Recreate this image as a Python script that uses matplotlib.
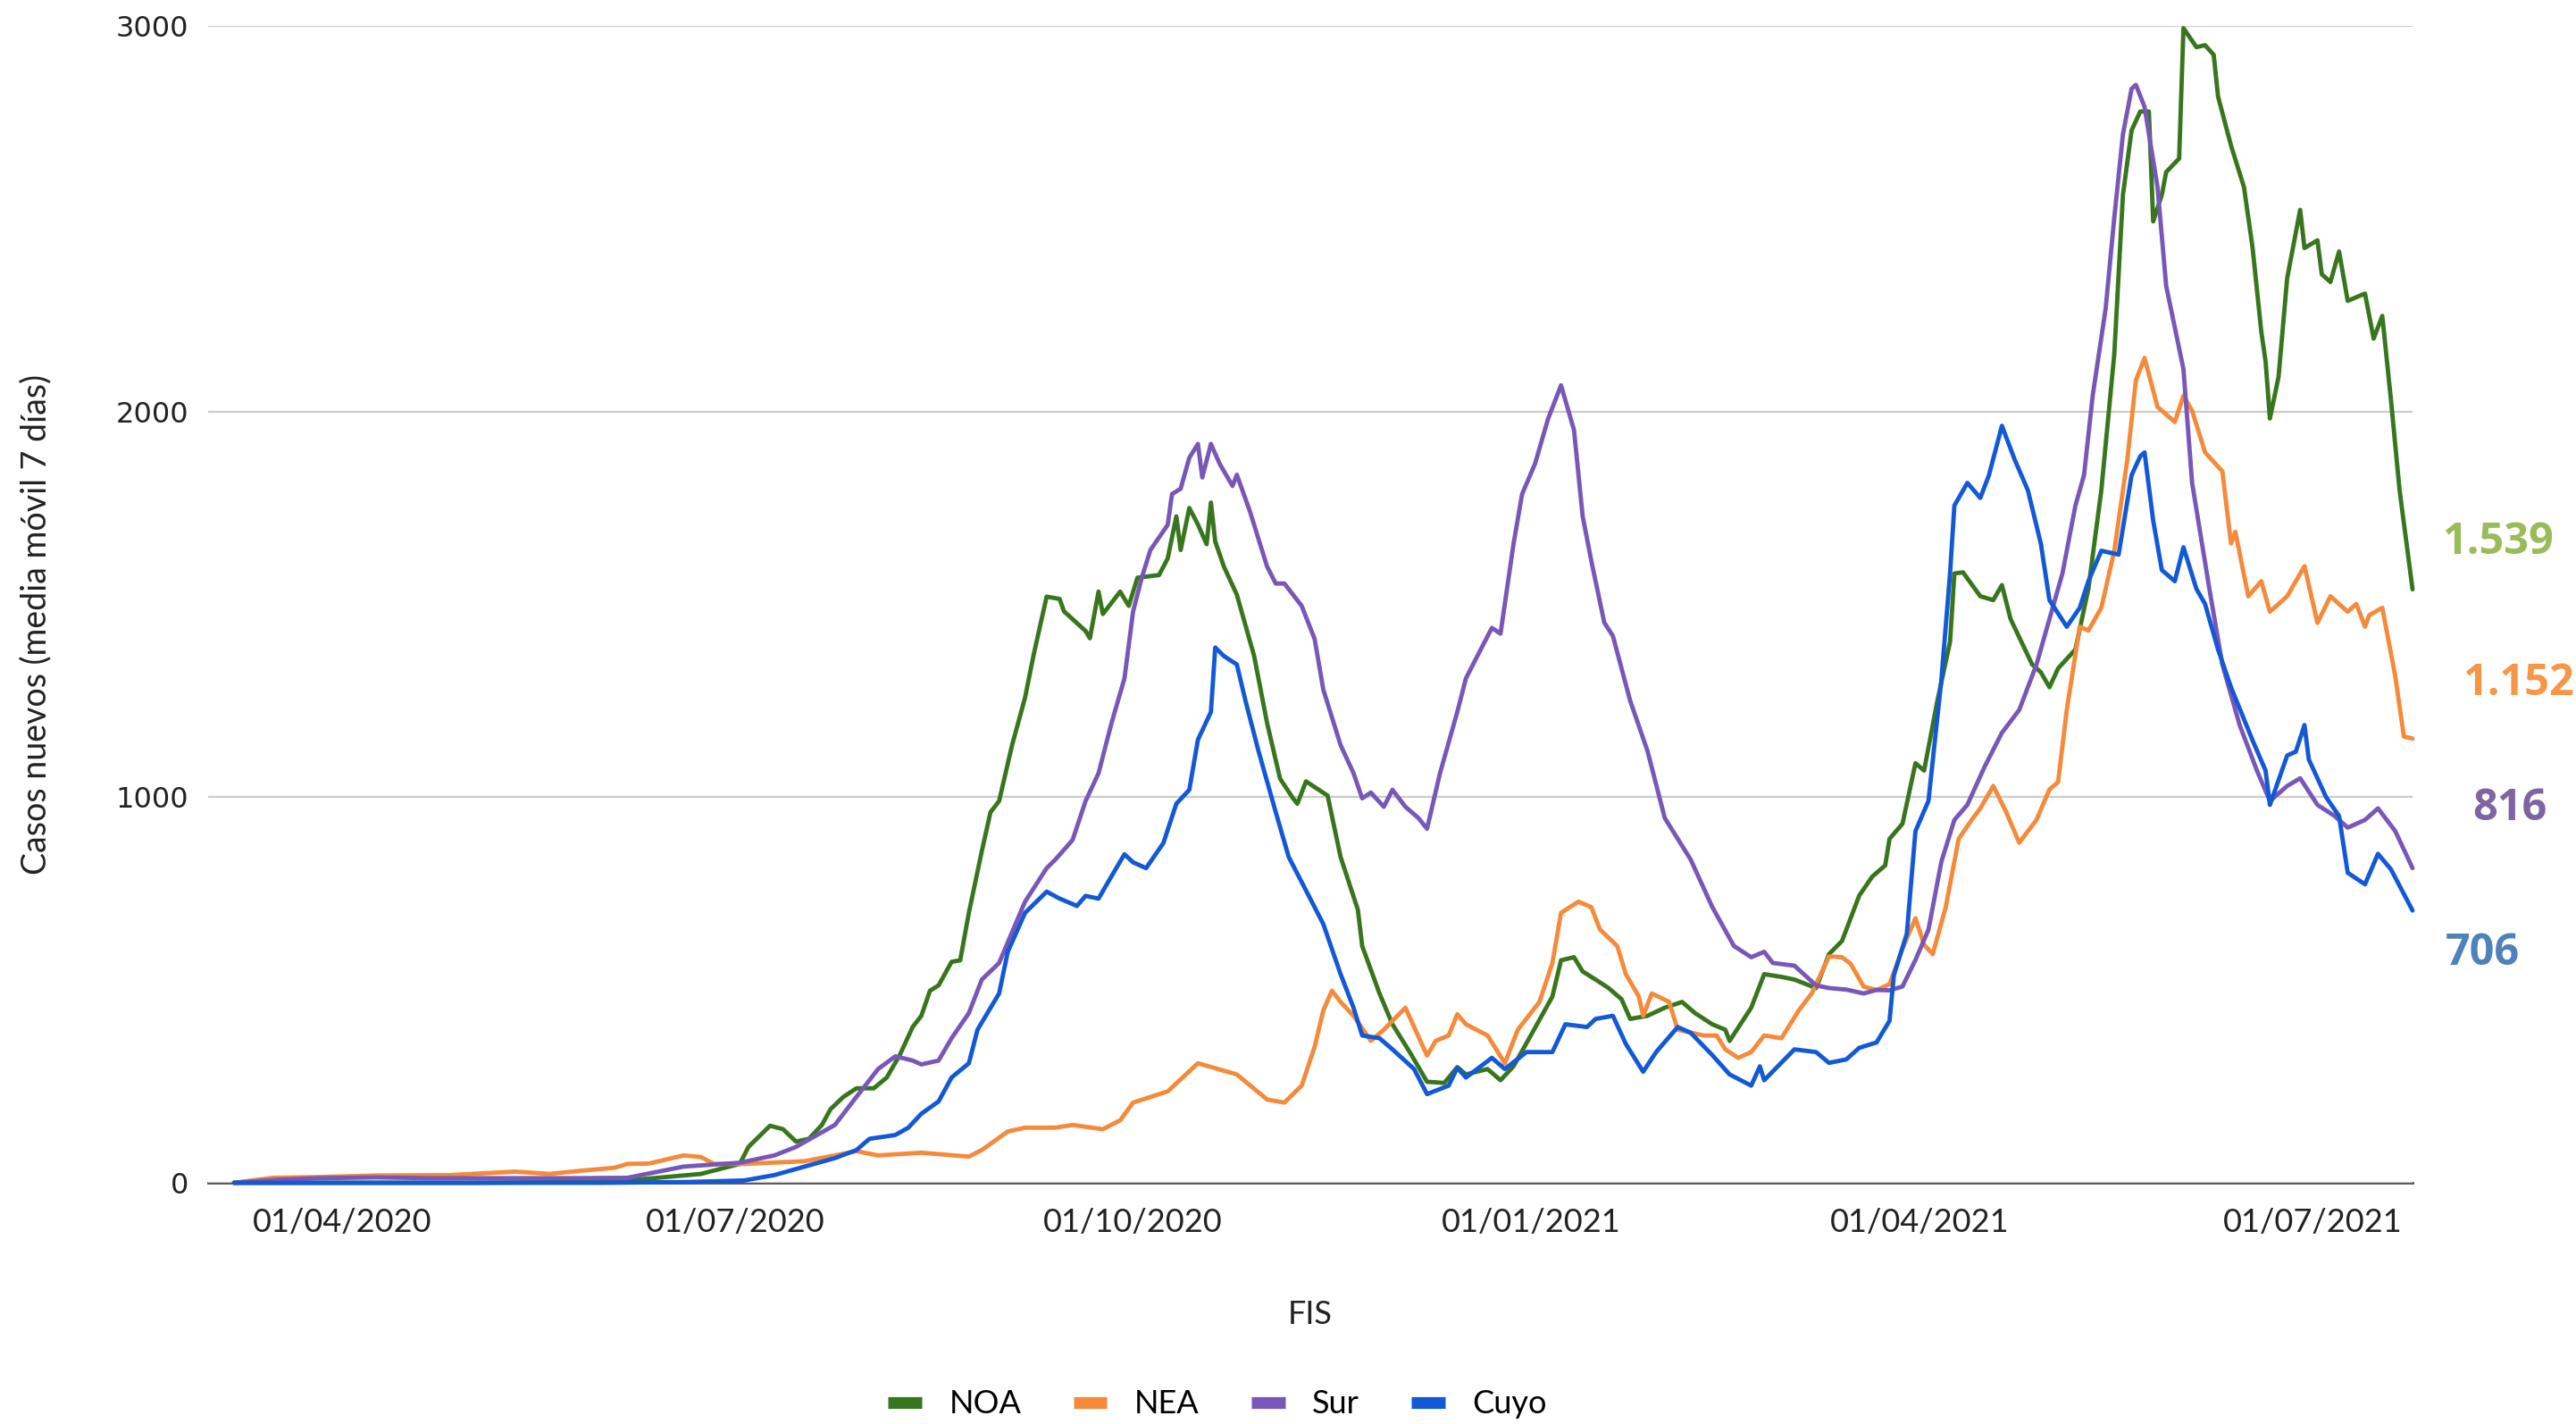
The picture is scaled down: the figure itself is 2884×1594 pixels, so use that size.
import pandas as pd
import matplotlib.pyplot as plt
from matplotlib.lines import Line2D

# (days since 01/04/2020, casos nuevos media movil 7 dias)
noa = [(-25, 0), (0, 0), (30, 0), (55, 2), (66, 6), (83, 23), (92, 49), (94, 93), (99, 148), (102, 139),
       (105, 107), (108, 114), (111, 150), (113, 191), (116, 223), (119, 245), (123, 245), (126, 273),
       (129, 331), (132, 404), (134, 433), (136, 498), (138, 512), (141, 573), (143, 577), (145, 700),
       (148, 860), (150, 961), (152, 990), (155, 1135), (158, 1258), (160, 1370), (163, 1520), (166, 1514),
       (167, 1482), (172, 1431), (173, 1412), (175, 1533), (176, 1475), (180, 1533), (182, 1496), (184, 1569),
       (189, 1576), (191, 1619), (193, 1728), (194, 1641), (196, 1750), (198, 1707), (200, 1656), (201, 1764),
       (202, 1663), (204, 1598), (207, 1525), (211, 1366), (214, 1192), (217, 1048), (220, 997), (221, 983),
       (223, 1041), (228, 1004), (231, 845), (235, 708), (236, 614), (240, 491), (243, 411), (247, 339),
       (251, 262), (255, 259), (258, 300), (260, 281), (265, 295), (268, 266), (271, 302), (275, 382),
       (280, 483), (282, 577), (285, 585), (287, 548), (290, 527), (293, 505), (296, 476), (298, 425),
       (302, 433), (306, 454), (310, 469), (313, 440), (317, 411), (320, 397), (321, 368), (326, 454),
       (329, 541), (333, 534), (336, 527), (341, 505), (344, 593), (347, 627), (351, 745), (354, 794),
       (357, 823), (358, 892), (361, 931), (364, 1088), (366, 1069), (369, 1246), (372, 1403), (373, 1580),
       (375, 1583), (379, 1521), (382, 1511), (384, 1550), (386, 1462), (391, 1344), (393, 1324), (395, 1285),
       (397, 1334), (401, 1383), (404, 1540), (407, 1796), (410, 2149), (412, 2562), (414, 2729), (416, 2778),
       (418, 2778), (419, 2493), (421, 2562), (422, 2621), (425, 2656), (426, 2994), (429, 2945), (431, 2950),
       (433, 2925), (434, 2817), (437, 2690), (440, 2582), (442, 2424), (444, 2208), (445, 2130), (446, 1982),
       (448, 2090), (450, 2346), (453, 2523), (454, 2424), (457, 2444), (458, 2356), (460, 2336), (462, 2415),
       (464, 2287), (468, 2306), (470, 2189), (472, 2248), (474, 2031), (476, 1796), (479, 1539)]

nea = [(-25, 0), (-16, 13), (-5, 15), (8, 19), (25, 20), (40, 29), (48, 23), (55, 31), (63, 39), (66, 49),
       (71, 50), (79, 71), (83, 67), (86, 49), (93, 49), (107, 56), (119, 82), (124, 71), (134, 78), (145, 68),
       (148, 85), (154, 133), (158, 143), (165, 143), (169, 150), (176, 139), (180, 162), (183, 208), (191, 237),
       (198, 310), (207, 281), (214, 216), (218, 208), (222, 252), (225, 353), (227, 447), (229, 498), (231, 469),
       (234, 433), (238, 368), (241, 397), (246, 454), (248, 404), (251, 330), (253, 368), (256, 382), (258, 437),
       (260, 411), (265, 382), (269, 310), (272, 397), (277, 469), (280, 570), (282, 700), (286, 729), (289, 715),
       (291, 657), (295, 614), (297, 541), (300, 483), (301, 433), (303, 491), (307, 469), (309, 397), (315, 382),
       (318, 382), (320, 346), (323, 324), (326, 339), (329, 382), (333, 375), (337, 447), (340, 491), (344, 587),
       (347, 585), (349, 568), (352, 509), (355, 500), (358, 515), (361, 607), (364, 686), (366, 617), (368, 593),
       (371, 715), (374, 892), (377, 941), (379, 971), (382, 1029), (385, 961), (388, 882), (392, 941), (395, 1020),
       (397, 1039), (399, 1226), (402, 1442), (404, 1432), (407, 1491), (410, 1639), (413, 1874), (415, 2081),
       (417, 2139), (420, 2012), (424, 1973), (426, 2041), (428, 2002), (431, 1894), (435, 1845), (437, 1658),
       (438, 1688), (441, 1521), (444, 1560), (446, 1481), (450, 1521), (454, 1599), (457, 1452), (460, 1521),
       (464, 1481), (466, 1501), (468, 1442), (469, 1472), (472, 1491), (475, 1314), (477, 1157), (479, 1152)]

sur = [(-25, 0), (-15, 8), (-5, 12), (8, 14), (20, 12), (40, 12), (55, 12), (66, 13), (79, 42), (92, 52),
       (100, 71), (105, 93), (114, 150), (119, 223), (124, 295), (128, 328), (132, 317), (134, 307), (138, 317),
       (141, 375), (145, 440), (148, 527), (152, 570), (155, 650), (158, 729), (163, 816), (165, 838), (169, 889),
       (172, 990), (175, 1062), (178, 1192), (181, 1308), (183, 1482), (185, 1569), (187, 1641), (191, 1706),
       (192, 1786), (194, 1800), (196, 1880), (198, 1916), (199, 1829), (201, 1916), (203, 1865), (206, 1807),
       (207, 1836), (210, 1742), (214, 1598), (216, 1554), (218, 1554), (222, 1496), (225, 1410), (227, 1279),
       (231, 1135), (234, 1062), (236, 997), (238, 1012), (241, 975), (243, 1019), (246, 975), (249, 946),
       (251, 918), (254, 1062), (258, 1221), (260, 1308), (262, 1352), (266, 1439), (268, 1424), (271, 1656),
       (273, 1786), (276, 1865), (279, 1981), (282, 2068), (285, 1952), (287, 1729), (289, 1613), (292, 1453),
       (294, 1418), (298, 1250), (302, 1120), (306, 946), (312, 838), (317, 715), (322, 614), (326, 585),
       (329, 599), (331, 570), (336, 563), (341, 512), (344, 505), (348, 501), (352, 491), (355, 500), (358, 499),
       (361, 509), (364, 578), (367, 656), (370, 833), (373, 941), (376, 980), (380, 1079), (384, 1167),
       (388, 1226), (392, 1344), (395, 1462), (398, 1580), (401, 1756), (403, 1835), (405, 2041), (408, 2267),
       (410, 2503), (412, 2719), (414, 2837), (415, 2847), (417, 2790), (420, 2582), (422, 2326), (426, 2110),
       (428, 1815), (432, 1540), (435, 1344), (439, 1187), (443, 1069), (446, 990), (450, 1029), (453, 1049),
       (457, 980), (461, 951), (464, 921), (468, 941), (471, 971), (475, 912), (479, 816)]

cuyo = [(-25, 0), (60, 0), (80, 2), (93, 6), (100, 20), (107, 42), (114, 64), (119, 85), (122, 114), (128, 124),
        (131, 143), (134, 179), (138, 211), (141, 273), (145, 310), (147, 397), (152, 491), (154, 599), (158, 700),
        (160, 722), (163, 755), (166, 737), (170, 718), (172, 744), (175, 737), (178, 795), (181, 852), (183, 831),
        (186, 816), (190, 881), (193, 983), (196, 1019), (198, 1149), (201, 1221), (202, 1388), (204, 1366),
        (207, 1344), (209, 1250), (212, 1120), (216, 961), (219, 845), (223, 758), (227, 671), (231, 541),
        (234, 454), (236, 382), (240, 375), (243, 346), (248, 295), (251, 230), (256, 252), (258, 298), (260, 273),
        (266, 324), (269, 295), (274, 339), (278, 339), (280, 339), (283, 411), (288, 404), (290, 425), (294, 433),
        (297, 360), (301, 288), (304, 339), (309, 404), (312, 389), (317, 331), (321, 281), (326, 252), (328, 302),
        (329, 266), (336, 346), (341, 339), (344, 311), (348, 320), (351, 350), (355, 364), (358, 420), (359, 538),
        (362, 646), (364, 912), (367, 990), (370, 1305), (372, 1580), (373, 1756), (376, 1815), (379, 1776),
        (381, 1835), (384, 1963), (387, 1874), (390, 1796), (393, 1658), (395, 1511), (399, 1442), (402, 1491),
        (404, 1560), (407, 1639), (411, 1629), (414, 1835), (416, 1884), (417, 1894), (419, 1717), (421, 1589),
        (424, 1560), (426, 1648), (429, 1540), (431, 1501), (434, 1383), (437, 1285), (442, 1147), (445, 1069),
        (446, 980), (450, 1108), (452, 1118), (454, 1187), (455, 1098), (459, 1000), (462, 951), (464, 804),
        (468, 774), (471, 853), (474, 813), (479, 706)]

names = ['NOA', 'NEA', 'Sur', 'Cuyo']
colors = ['#38761d', '#f58a3a', '#7957b8', '#1358d6']
last_labels = ['1.539', '1.152', '816', '706']
last_colors = ['#9bbb59', '#f79646', '#8064a2', '#4f81bd']
tick_dates = ['2020-04-01', '2020-07-01', '2020-10-01', '2021-01-01', '2021-04-01', '2021-07-01']

start = pd.Timestamp('2020-04-01')
W, H = 2884, 1594

fig = plt.figure(figsize=(W / 100, H / 100), dpi=100)
ax = fig.add_axes([233 / W, 1 - 1324 / H, (2701 - 233) / W, (1324 - 29) / H])

for pts, c in zip([noa, nea, sur, cuyo], colors):
    days = [p[0] for p in pts]
    vals = [p[1] for p in pts]
    x = start + pd.to_timedelta(days, unit='D')
    ax.plot(x, vals, color=c, lw=3.5, solid_joinstyle='round', solid_capstyle='round', clip_on=False)

ax.set_ylim(0, 3000)
ax.set_yticks([0, 1000, 2000, 3000])
ax.set_xlim(start - pd.Timedelta(days=31), start + pd.Timedelta(days=479))
ticks = pd.to_datetime(tick_dates)
ax.set_xticks(ticks)
ax.set_xticklabels([t.strftime('%d/%m/%Y') for t in ticks], fontsize=26, family='Lato', color='#222222')
for lab in ax.get_yticklabels():
    lab.set_fontsize(23)
    lab.set_color('#222222')
ax.tick_params(axis='x', length=0, pad=20)
ax.tick_params(axis='y', length=0, pad=16)
ax.grid(axis='y', color='#cccccc', lw=1.6)
ax.set_axisbelow(True)
for s in ['top', 'right', 'left']:
    ax.spines[s].set_visible(False)
ax.spines['bottom'].set_color('#555555')
ax.spines['bottom'].set_linewidth(2)
ax.spines['bottom'].set_zorder(0.5)

fig.text(40 / W, 1 - 699 / H, 'Casos nuevos (media móvil 7 días)', rotation=90,
         ha='center', va='center', fontsize=27, family='Lato', color='#222222')
fig.text(1467 / W, 1 - 1471 / H, 'FIS', ha='center', va='center', fontsize=26,
         family='Lato', color='#222222')

# final values at the right
label_pos = [(2796, 607), (2819, 766), (2810, 905), (2779, 1068)]
for txt, c, (px, py) in zip(last_labels, last_colors, label_pos):
    fig.text(px / W, 1 - py / H, txt, ha='center', va='center', fontsize=35,
             fontweight='bold', family='Open Sans', color=c)

handles = [Line2D([0], [0], color=c, lw=9.5, solid_capstyle='butt') for c in colors]
fig.legend(handles, names, loc='center', bbox_to_anchor=(1363 / W, 1 - 1572 / H), ncol=4,
           frameon=False, prop={'family': 'Lato', 'size': 26}, handlelength=1.05,
           handletextpad=0.85, columnspacing=1.6)

fig.savefig('out.png', dpi=100, facecolor='white')
